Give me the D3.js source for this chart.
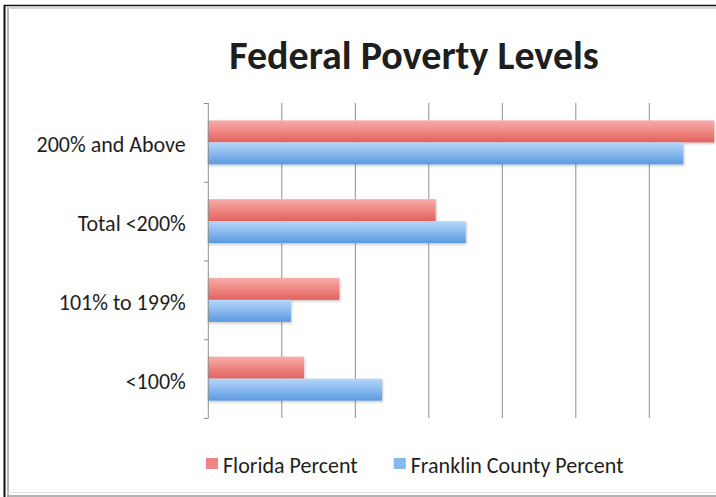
<!DOCTYPE html>
<html>
<head>
<meta charset="utf-8">
<script src="https://cdn.jsdelivr.net/npm/d3@7"></script>
<style>
  body { margin: 0; background: #fff; }
  svg { display: block; }
  text { font-family: Carlito, Lato, "Open Sans", sans-serif; fill: #1e1e1e; }
</style>
</head>
<body>
<svg id="chart" width="716" height="497"></svg>
<script>
// Share of population by federal poverty level (percent)
const categories = ["200% and Above", "Total <200%", "101% to 199%", "<100%"];
const seriesNames = ["Florida Percent", "Franklin County Percent"];
const floridaPercent = [68.9, 31.0, 17.9, 13.1];
const franklinPercent = [64.7, 35.1, 11.3, 23.7];
const gridTicks = [0, 10, 20, 30, 40, 50, 60, 70];
const titleText = "Federal Poverty Levels";

const seriesValues = [floridaPercent, franklinPercent];
const rows = categories.map((c, i) => ({
  category: c,
  values: seriesNames.map((s, j) => ({ series: s, value: seriesValues[j][i] }))
}));

const W = 716, H = 497;
const svg = d3.select("#chart");
const defs = svg.append("defs");

// Glossy gradients for the two series
const palettes = [
  { id: "gradRed", stops: ["#f7aeab", "#f08a86", "#e2625e"] },
  { id: "gradBlue", stops: ["#b6d7fa", "#8ebcf0", "#5a99e0"] }
];
palettes.forEach(p => {
  const g = defs.append("linearGradient").attr("id", p.id)
    .attr("x1", 0).attr("y1", 0).attr("x2", 0).attr("y2", 1);
  g.append("stop").attr("offset", "0%").attr("stop-color", p.stops[0]);
  g.append("stop").attr("offset", "45%").attr("stop-color", p.stops[1]);
  g.append("stop").attr("offset", "100%").attr("stop-color", p.stops[2]);
});
const shadow = defs.append("filter").attr("id", "barShadow")
  .attr("x", "-5%").attr("y", "-20%").attr("width", "115%").attr("height", "160%");
shadow.append("feDropShadow").attr("dx", 1).attr("dy", 1.5)
  .attr("stdDeviation", 1.2).attr("flood-color", "#000").attr("flood-opacity", 0.22);

// Outer frame (slide border)
svg.append("line").attr("x1", 4.5).attr("x2", 4.5).attr("y1", 5).attr("y2", H)
  .attr("stroke", "#111").attr("stroke-width", 2);
svg.append("line").attr("x1", 4).attr("x2", W).attr("y1", 5.5).attr("y2", 5.5)
  .attr("stroke", "#111").attr("stroke-width", 1.5);
svg.append("line").attr("x1", 8).attr("x2", 8).attr("y1", 7).attr("y2", H)
  .attr("stroke", "#b4b4b4").attr("stroke-width", 2);
svg.append("line").attr("x1", 7).attr("x2", W).attr("y1", 8).attr("y2", 8)
  .attr("stroke", "#c8c8c8").attr("stroke-width", 1.5);
svg.append("line").attr("x1", 7).attr("x2", W).attr("y1", 492.5).attr("y2", 492.5)
  .attr("stroke", "#e2e2e2").attr("stroke-width", 1);
svg.append("line").attr("x1", 7).attr("x2", W).attr("y1", 496).attr("y2", 496)
  .attr("stroke", "#9a9a9a").attr("stroke-width", 1.5);

// Scales
const x = d3.scaleLinear().domain([0, 70]).range([207.8, 722.3]);
const y = d3.scaleBand().domain(categories).range([103, 418]).paddingInner(0).paddingOuter(0);
const ySub = d3.scaleBand().domain(seriesNames).range([0, y.bandwidth()]).paddingInner(0).paddingOuter(0.79);
const color = d3.scaleOrdinal().domain(seriesNames).range(["url(#gradRed)", "url(#gradBlue)"]);
const swatch = d3.scaleOrdinal().domain(seriesNames).range(["#ee8581", "#86b8ee"]);

// Vertical gridlines
svg.append("g").selectAll("line").data(gridTicks.filter(d => d > 0)).join("line")
  .attr("x1", d => x(d) + 0.5).attr("x2", d => x(d) + 0.5)
  .attr("y1", y.range()[0]).attr("y2", y.range()[1])
  .attr("stroke", "#8f8f8f").attr("stroke-width", 1);

// Bars
const groups = svg.append("g").selectAll("g").data(rows).join("g")
  .attr("transform", d => `translate(0,${y(d.category)})`);
groups.selectAll("rect").data(d => d.values).join("rect")
  .attr("x", x(0))
  .attr("y", d => ySub(d.series))
  .attr("width", d => x(d.value) - x(0))
  .attr("height", ySub.bandwidth())
  .attr("fill", d => color(d.series))
  .attr("filter", "url(#barShadow)");

// Category axis: line, boundary ticks and labels
svg.append("line").attr("x1", x(0) + 0.5).attr("x2", x(0) + 0.5)
  .attr("y1", y.range()[0]).attr("y2", y.range()[1])
  .attr("stroke", "#8f8f8f").attr("stroke-width", 1);
const bounds = categories.map(c => y(c)).concat([y.range()[1]]);
svg.append("g").selectAll("line").data(bounds).join("line")
  .attr("x1", x(0) - 4).attr("x2", x(0) + 0.5)
  .attr("y1", d => d + 0.5).attr("y2", d => d + 0.5)
  .attr("stroke", "#8f8f8f").attr("stroke-width", 1);

const yAxis = d3.axisLeft(y).tickSize(0).tickPadding(22);
const ya = svg.append("g").attr("transform", `translate(${x(0)},0)`).call(yAxis);
ya.select(".domain").remove();
ya.selectAll("text").attr("font-size", 22).attr("dy", "0.45em")
  .style("font-family", "Carlito, Lato, 'Open Sans', sans-serif").attr("fill", "#1e1e1e");

// Title
svg.append("text").attr("x", 414).attr("y", 69).attr("text-anchor", "middle")
  .attr("font-size", 40).attr("font-weight", "bold").text(titleText);

// Legend
const legend = svg.append("g").attr("transform", "translate(206,0)");
let lx = 0;
seriesNames.forEach(s => {
  const item = legend.append("g").attr("transform", `translate(${lx},0)`);
  item.append("rect").attr("x", 0).attr("y", 458).attr("width", 12).attr("height", 11)
    .attr("fill", swatch(s));
  const t = item.append("text").attr("x", 17).attr("y", 472.5)
    .attr("font-size", 22).text(s);
  lx += 17 + t.node().getComputedTextLength() + 36;
});
</script>
</body>
</html>
